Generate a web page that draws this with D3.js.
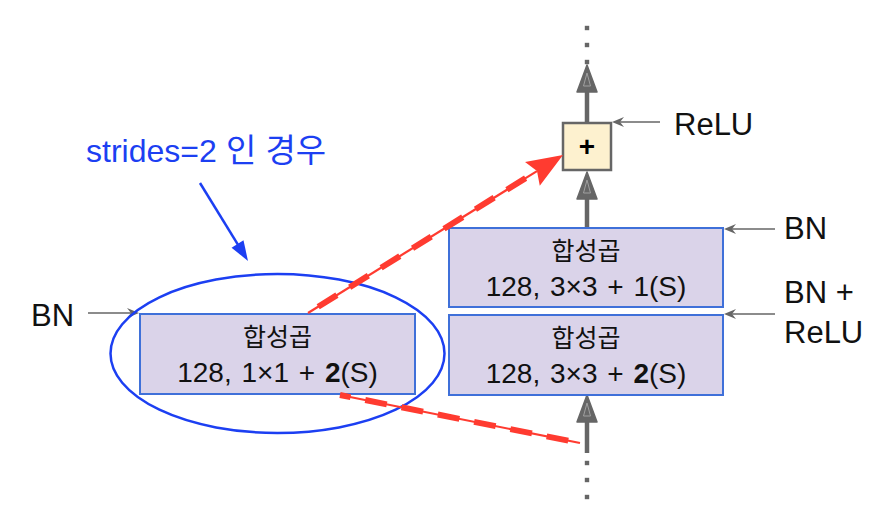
<!DOCTYPE html>
<html>
<head>
<meta charset="utf-8">
<script src="https://cdn.jsdelivr.net/npm/d3@7"></script>
<style>
  html, body { margin: 0; padding: 0; background: #ffffff; }
  svg { display: block; }
  text { font-family: "Liberation Sans", Arial, "Noto Sans CJK KR", sans-serif; }
</style>
</head>
<body>
<svg id="chart" width="888" height="532"></svg>
<script>
// --- diagram content ---
const convTitle = '합성곱';
const blockNames = ['shortcut', 'conv2', 'conv1'];
const blockFilters = [128, 128, 128];
const blockKernels = ['1×1', '3×3', '3×3'];
const blockStrides = [2, 1, 2];
const strideBold = [true, false, true];
const sideLabels = [['ReLU'], ['BN'], ['BN +', 'ReLU'], ['BN']];
const annotationLatin = 'strides=2';
const annotationKorean = ' 인 경우';
const addSymbol = '+';

// --- layout (pixel positions) ---
const spineX = 587;
const boxLayout = {
  shortcut: { x: 140, y: 314, w: 275, h: 80 },
  conv2:    { x: 449, y: 228, w: 274, h: 79 },
  conv1:    { x: 449, y: 315, w: 274, h: 80 }
};
const addBox = { x: 563, y: 123, w: 48, h: 47 };

const COLORS = {
  gray: '#666666',
  grayLight: '#a0a0a0',
  boxFill: '#dad3e9',
  boxStroke: '#3f70d9',
  addFill: '#fdf1cf',
  red: '#ff3b30',
  blue: '#1c3ff2',
  text: '#111111'
};

const svg = d3.select('#chart');
const g = svg.append('g');

/**
 * Grey thin arrow with a small barbed head (tip at x2,y2)
 */
function thinArrow(x1, y1, x2, y2) {
  g.append('line')
    .attr('x1', x1).attr('y1', y1)
    .attr('x2', x2 + (x1 > x2 ? 4 : -4)).attr('y2', y2)
    .attr('stroke', COLORS.gray)
    .attr('stroke-width', 1.7);
  const ang = Math.atan2(y2 - y1, x2 - x1) * 180 / Math.PI;
  g.append('path')
    .attr('d', 'M0,0 L-12,-5 L-8,0 L-12,5 Z')
    .attr('transform', `translate(${x2},${y2}) rotate(${ang})`)
    .attr('fill', COLORS.gray);
}

/**
 * Heavy spine arrowhead pointing up, with a lighter inner outline
 */
function spineHead(tipY) {
  const hw = 10, len = 27;
  g.append('path')
    .attr('d', `M${spineX},${tipY} L${spineX + hw},${tipY + len} L${spineX - hw},${tipY + len} Z`)
    .attr('fill', COLORS.gray)
    .attr('stroke', COLORS.gray)
    .attr('stroke-width', 1.5)
    .attr('stroke-linejoin', 'round');
  g.append('path')
    .attr('d', `M${spineX},${tipY + 8} L${spineX + 3.5},${tipY + 21} L${spineX - 3.5},${tipY + 21} Z`)
    .attr('fill', 'none')
    .attr('stroke', COLORS.grayLight)
    .attr('stroke-width', 1);
}

function spineLine(y1, y2) {
  g.append('line')
    .attr('x1', spineX).attr('x2', spineX)
    .attr('y1', y1).attr('y2', y2)
    .attr('stroke', COLORS.gray)
    .attr('stroke-width', 4.5);
}

function spineDots(ys) {
  g.selectAll(null)
    .data(ys)
    .join('rect')
    .attr('x', spineX - 2.2)
    .attr('y', d => d - 2.2)
    .attr('width', 4.4)
    .attr('height', 4.4)
    .attr('fill', COLORS.gray);
}

// --- spine (main path) ---
spineDots([28, 45, 62]);
spineLine(88, addBox.y);
spineHead(65);
spineLine(195, boxLayout.conv2.y);
spineHead(172);
spineLine(boxLayout.conv1.y + boxLayout.conv1.h + 25, 453);
spineHead(boxLayout.conv1.y + boxLayout.conv1.h);
spineDots([463, 480, 497]);

// --- add box ---
g.append('rect')
  .attr('x', addBox.x).attr('y', addBox.y)
  .attr('width', addBox.w).attr('height', addBox.h)
  .attr('fill', COLORS.addFill)
  .attr('stroke', COLORS.gray)
  .attr('stroke-width', 2.5);
g.append('text')
  .attr('x', addBox.x + addBox.w / 2)
  .attr('y', addBox.y + addBox.h / 2 + 9)
  .attr('text-anchor', 'middle')
  .style('font-size', '28px')
  .style('font-weight', 'bold')
  .style('fill', '#000')
  .text(addSymbol);

// --- conv blocks ---
blockNames.forEach((name, i) => {
  const b = boxLayout[name];
  const cx = b.x + b.w / 2;
  g.append('rect')
    .attr('x', b.x).attr('y', b.y)
    .attr('width', b.w).attr('height', b.h)
    .attr('fill', COLORS.boxFill)
    .attr('stroke', COLORS.boxStroke)
    .attr('stroke-width', 2);

  g.append('text')
    .attr('x', cx)
    .attr('y', b.y + 32)
    .attr('text-anchor', 'middle')
    .style('font-family', '"Noto Sans CJK KR", sans-serif')
    .style('font-size', '25px')
    .style('fill', COLORS.text)
    .text(convTitle);

  const t = g.append('text')
    .attr('x', cx)
    .attr('y', b.y + 68)
    .attr('text-anchor', 'middle')
    .style('font-size', '28px')
    .style('word-spacing', '2px')
    .style('fill', COLORS.text);
  t.append('tspan').text(`${blockFilters[i]}, ${blockKernels[i]} + `);
  t.append('tspan')
    .style('font-weight', strideBold[i] ? 'bold' : 'normal')
    .text(blockStrides[i]);
  t.append('tspan').text('(S)');
});

// --- side labels with thin arrows ---
const labelStyle = sel => sel
  .style('font-size', '31px')
  .style('fill', COLORS.text);

// ReLU → add box
thinArrow(660, 122, 612, 122);
g.append('text').attr('x', 674).attr('y', 135).call(labelStyle).text(sideLabels[0][0]);

// BN → conv2
thinArrow(775, 229, 724, 229);
g.append('text').attr('x', 784).attr('y', 239).call(labelStyle).text(sideLabels[1][0]);

// BN + ReLU → conv1
thinArrow(775, 314, 724, 314);
g.append('text').attr('x', 784).attr('y', 303).call(labelStyle).text(sideLabels[2][0]);
g.append('text').attr('x', 784).attr('y', 343).call(labelStyle).text(sideLabels[2][1]);

// BN → shortcut
thinArrow(88, 313, 139, 313);
g.append('text').attr('x', 31).attr('y', 326).call(labelStyle).text(sideLabels[3][0]);

// --- highlight ellipse and annotation ---
g.append('ellipse')
  .attr('cx', 277.5).attr('cy', 353.5)
  .attr('rx', 167).attr('ry', 79.5)
  .attr('fill', 'none')
  .attr('stroke', COLORS.blue)
  .attr('stroke-width', 2.5);

const ann = g.append('text')
  .attr('x', 86).attr('y', 162)
  .style('fill', COLORS.blue);
ann.append('tspan').style('font-size', '32px').text(annotationLatin);
ann.append('tspan').style('font-size', '33px').text(annotationKorean);

(function blueArrow() {
  const x1 = 200, y1 = 183, x2 = 248, y2 = 261;
  const ang = Math.atan2(y2 - y1, x2 - x1);
  const len = 20;
  g.append('line')
    .attr('x1', x1).attr('y1', y1)
    .attr('x2', x2 - Math.cos(ang) * len * 0.8)
    .attr('y2', y2 - Math.sin(ang) * len * 0.8)
    .attr('stroke', COLORS.blue)
    .attr('stroke-width', 2.5);
  g.append('path')
    .attr('d', `M0,0 L${-len},-7 L${-len},7 Z`)
    .attr('transform', `translate(${x2},${y2}) rotate(${ang * 180 / Math.PI})`)
    .attr('fill', COLORS.blue);
})();

// --- red shortcut lines (thin line + thick dashes) ---
function redDashed(x1, y1, x2, y2) {
  g.append('line')
    .attr('x1', x1).attr('y1', y1).attr('x2', x2).attr('y2', y2)
    .attr('stroke', COLORS.red)
    .attr('stroke-width', 2.2);
  g.append('line')
    .attr('x1', x1).attr('y1', y1).attr('x2', x2).attr('y2', y2)
    .attr('stroke', COLORS.red)
    .attr('stroke-width', 6)
    .attr('stroke-dasharray', '22,15')
    .attr('stroke-dashoffset', -12);
}

// shortcut → add box (with arrowhead)
(function () {
  const x1 = 308, y1 = 313, tx = 563, ty = 155;
  const ang = Math.atan2(ty - y1, tx - x1);
  const headLen = 36;
  const bx = tx - Math.cos(ang) * headLen * 0.85;
  const by = ty - Math.sin(ang) * headLen * 0.85;
  redDashed(x1, y1, bx, by);
  g.append('path')
    .attr('d', `M0,0 L${-headLen},-14 L${-headLen * 0.85},0 L${-headLen},14 Z`)
    .attr('transform', `translate(${tx},${ty}) rotate(${ang * 180 / Math.PI})`)
    .attr('fill', COLORS.red);
})();

// input → shortcut
redDashed(580, 443, 340, 395);
</script>
</body>
</html>
